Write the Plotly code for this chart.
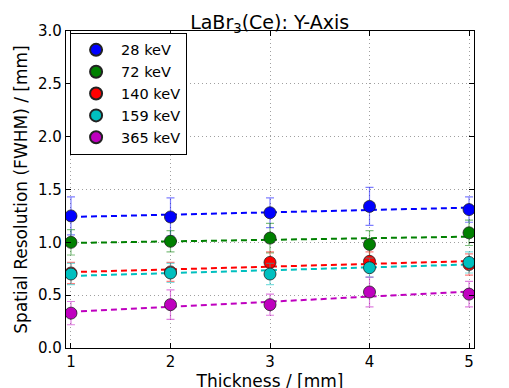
import numpy as np
import plotly.graph_objects as go

thickness = [1, 2, 3, 4, 5]

energies = ["28 keV", "72 keV", "140 keV", "159 keV", "365 keV"]
colors = ["#0000ff", "#008000", "#ff0000", "#00bfbf", "#bf00bf"]
err_colors = ["rgba(0,0,255,0.5)", "rgba(0,128,0,0.5)", "rgba(255,0,0,0.5)",
              "rgba(0,191,191,0.5)", "rgba(191,0,191,0.5)"]

res_28 = [1.25, 1.24, 1.28, 1.34, 1.31]
res_72 = [1.00, 1.01, 1.04, 0.98, 1.09]
res_140 = [0.71, 0.72, 0.81, 0.82, 0.79]
res_159 = [0.70, 0.71, 0.70, 0.76, 0.81]
res_365 = [0.33, 0.41, 0.41, 0.53, 0.51]

err_28 = [0.18, 0.18, 0.14, 0.18, 0.12]
err_72 = [0.12, 0.10, 0.14, 0.13, 0.12]
err_140 = [0.10, 0.09, 0.10, 0.09, 0.10]
err_159 = [0.10, 0.09, 0.10, 0.09, 0.10]
err_365 = [0.11, 0.14, 0.10, 0.14, 0.12]

series = [res_28, res_72, res_140, res_159, res_365]
errors = [err_28, err_72, err_140, err_159, err_365]

fig = go.Figure()

# linear fits (dashed)
x_fit = np.array([1.0, 5.0])
for y, c in zip(series, colors):
    k, d = np.polyfit(thickness, y, 1)
    fig.add_trace(go.Scatter(
        x=x_fit, y=k * x_fit + d, mode="lines",
        line=dict(color=c, width=2, dash="6px,4px"),
        showlegend=False, hoverinfo="skip"
    ))

# data points with error bars
for name, y, e, c, ec in zip(energies, series, errors, colors, err_colors):
    fig.add_trace(go.Scatter(
        x=thickness, y=y, mode="markers", name=name,
        marker=dict(color=c, size=12, line=dict(color="#222222", width=0.8)),
        error_y=dict(type="data", array=e, color=ec, thickness=1.2, width=4),
    ))

axis_common = dict(
    showline=True, linecolor="black", linewidth=1.2, mirror="ticks",
    ticks="inside", ticklen=5, tickcolor="black",
    showgrid=True, gridcolor="#a0a0a0", griddash="1px,3px", gridwidth=1,
    zeroline=False, tickfont=dict(size=15, color="black"), automargin=False,
)

# page body adds an 8px offset, so margins are shifted up/left
fig.update_layout(
    width=509, height=388,
    margin=dict(l=58, r=43, t=23, b=48),
    paper_bgcolor="white", plot_bgcolor="white",
    font=dict(family="DejaVu Sans", color="black"),
    title=dict(text="LaBr<sub>3</sub>(Ce): Y-Axis", x=0.514, xanchor="center",
               y=0.963, yanchor="middle", font=dict(size=19), automargin=False),
    xaxis=dict(range=[0.95, 5.05], tickvals=thickness,
               title=dict(text="Thickness / [mm]", font=dict(size=17), standoff=0),
               **axis_common),
    yaxis=dict(range=[0, 3.0], dtick=0.5, tickformat=".1f",
               title=dict(text="Spatial Resolution (FWHM) / [mm]", font=dict(size=17), standoff=6),
               **axis_common),
    legend=dict(x=0.01, y=0.994, xanchor="left", yanchor="top",
                bordercolor="black", borderwidth=1, bgcolor="white",
                font=dict(size=14.5), itemsizing="constant", itemwidth=40,
                tracegroupgap=0),
)

fig.write_html("out.html")
